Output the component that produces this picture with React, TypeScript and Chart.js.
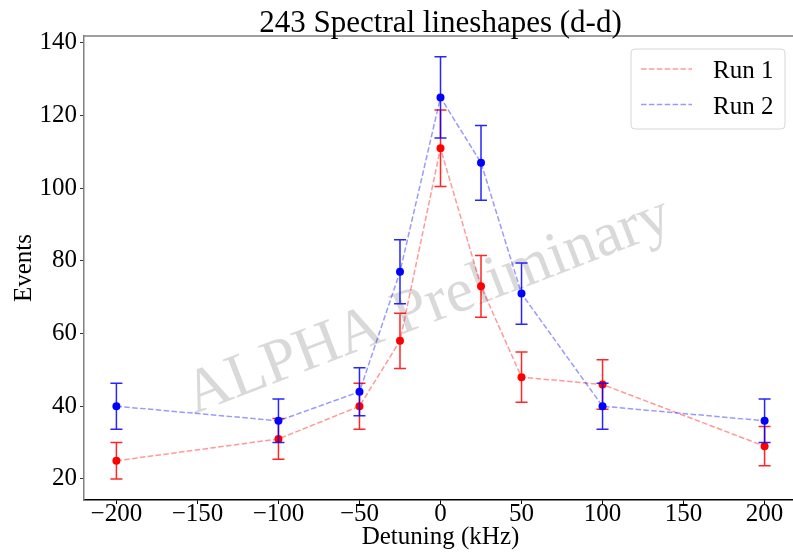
import React, { useEffect, useRef } from "react";
import { Chart, registerables } from "chart.js";

Chart.register(...registerables);

const detuning = [-200, -100, -50, -25, 0, 25, 50, 100, 200];
const run1Events = [25, 31, 40, 58, 111, 73, 48, 46, 29];
const run1Err = [5.0, 5.6, 6.3, 7.6, 10.5, 8.5, 6.9, 6.8, 5.4];
const run2Events = [40, 36, 44, 77, 125, 107, 71, 40, 36];
const run2Err = [6.3, 6.0, 6.6, 8.8, 11.2, 10.3, 8.4, 6.3, 6.0];
const xTicks = [-200, -150, -100, -50, 0, 50, 100, 150, 200];
const yTicks = [20, 40, 60, 80, 100, 120, 140];

const FONT = '"Liberation Serif", "Times New Roman", serif';
const CANVAS_W = 830;
const CANVAS_H = 559;

const errorBarPlugin = {
  id: "errorBars",
  beforeDatasetDraw(chart: any, args: any) {
    const ds = chart.data.datasets[args.index];
    const errs: number[] = ds.errors;
    if (!errs) return;
    const xs = chart.scales.x;
    const ys = chart.scales.y;
    const ctx = chart.ctx;
    ctx.save();
    ctx.strokeStyle = ds.errorColor;
    ctx.lineWidth = 1.5;
    ctx.setLineDash([]);
    ds.data.forEach((p: any, i: number) => {
      const x = xs.getPixelForValue(p.x);
      const yt = ys.getPixelForValue(p.y + errs[i]);
      const yb = ys.getPixelForValue(p.y - errs[i]);
      ctx.beginPath();
      ctx.moveTo(x, yt);
      ctx.lineTo(x, yb);
      ctx.moveTo(x - 6, yt);
      ctx.lineTo(x + 6, yt);
      ctx.moveTo(x - 6, yb);
      ctx.lineTo(x + 6, yb);
      ctx.stroke();
    });
    ctx.restore();
  },
};

const decorPlugin = {
  id: "decor",
  beforeDatasetsDraw(chart: any) {
    const ctx = chart.ctx;
    ctx.save();
    ctx.translate(434, 322);
    ctx.rotate((-21 * Math.PI) / 180);
    ctx.font = `62px ${FONT}`;
    ctx.fillStyle = "rgba(128,128,128,0.3)";
    ctx.textAlign = "center";
    ctx.textBaseline = "alphabetic";
    ctx.fillText("ALPHA Preliminary", 0, 0);
    ctx.restore();
  },
  afterDraw(chart: any) {
    const ctx = chart.ctx;
    const a = chart.chartArea;
    ctx.save();
    // top spine
    ctx.strokeStyle = "#808080";
    ctx.lineWidth = 1.5;
    ctx.beginPath();
    ctx.moveTo(a.left, a.top);
    ctx.lineTo(a.right, a.top);
    ctx.stroke();
    // title
    ctx.fillStyle = "#000";
    ctx.font = `31px ${FONT}`;
    ctx.textAlign = "center";
    ctx.textBaseline = "alphabetic";
    ctx.fillText("243 Spectral lineshapes (d-d)", (a.left + a.right) / 2, 32);
    // x title
    ctx.font = `25px ${FONT}`;
    ctx.fillText("Detuning (kHz)", (a.left + a.right) / 2, 544);
    // y title
    ctx.save();
    ctx.translate(31, (a.top + a.bottom) / 2);
    ctx.rotate(-Math.PI / 2);
    ctx.fillText("Events", 0, 0);
    ctx.restore();
    // legend
    const lx = 631, ly = 49, lw = 154, lh = 80, r = 4;
    ctx.beginPath();
    ctx.moveTo(lx + r, ly);
    ctx.lineTo(lx + lw - r, ly);
    ctx.quadraticCurveTo(lx + lw, ly, lx + lw, ly + r);
    ctx.lineTo(lx + lw, ly + lh - r);
    ctx.quadraticCurveTo(lx + lw, ly + lh, lx + lw - r, ly + lh);
    ctx.lineTo(lx + r, ly + lh);
    ctx.quadraticCurveTo(lx, ly + lh, lx, ly + lh - r);
    ctx.lineTo(lx, ly + r);
    ctx.quadraticCurveTo(lx, ly, lx + r, ly);
    ctx.closePath();
    ctx.fillStyle = "rgba(255,255,255,0.8)";
    ctx.fill();
    ctx.strokeStyle = "#d6d6d6";
    ctx.lineWidth = 1;
    ctx.stroke();
    const items = chart.data.datasets
      .slice()
      .sort((p: any, q: any) => p.legendOrder - q.legendOrder);
    items.forEach((ds: any, i: number) => {
      const y = 69 + i * 35.5;
      ctx.strokeStyle = ds.borderColor;
      ctx.lineWidth = 1.5;
      ctx.setLineDash([5.5, 2.4]);
      ctx.beginPath();
      ctx.moveTo(641, y);
      ctx.lineTo(692, y);
      ctx.stroke();
      ctx.setLineDash([]);
      ctx.fillStyle = "#000";
      ctx.font = `25px ${FONT}`;
      ctx.textAlign = "left";
      ctx.textBaseline = "alphabetic";
      ctx.fillText(ds.label, 713, y + 9);
    });
    ctx.restore();
  },
};

export default function App() {
  const ref = useRef<HTMLCanvasElement | null>(null);
  useEffect(() => {
    document.body.style.margin = "0";
    const canvas = ref.current!;
    const mk = (ys: number[]) => detuning.map((x, i) => ({ x, y: ys[i] }));
    const chart = new Chart(canvas, {
      type: "line",
      data: {
        datasets: [
          {
            label: "Run 2",
            data: mk(run2Events),
            errors: run2Err,
            errorColor: "rgba(0,0,255,0.85)",
            legendOrder: 1,
            borderColor: "rgba(0,0,255,0.4)",
            borderWidth: 1.5,
            borderDash: [5.5, 2.4],
            pointRadius: 4,
            pointBorderWidth: 0,
            pointBackgroundColor: "#0000ff",
            pointBorderColor: "#0000ff",
            tension: 0,
            fill: false,
            order: 0,
          } as any,
          {
            label: "Run 1",
            data: mk(run1Events),
            errors: run1Err,
            errorColor: "rgba(255,0,0,0.85)",
            legendOrder: 0,
            borderColor: "rgba(255,0,0,0.4)",
            borderWidth: 1.5,
            borderDash: [5.5, 2.4],
            pointRadius: 4,
            pointBorderWidth: 0,
            pointBackgroundColor: "#ff0000",
            pointBorderColor: "#ff0000",
            tension: 0,
            fill: false,
            order: 1,
          } as any,
        ],
      },
      options: {
        responsive: false,
        animation: false,
        devicePixelRatio: 1,
        layout: { padding: { top: 36, left: 0, right: CANVAS_W - 797, bottom: 0 } },
        plugins: {
          legend: { display: false },
          title: { display: false },
          tooltip: { enabled: false },
        },
        scales: {
          x: {
            type: "linear",
            min: -220,
            max: 220,
            afterFit: (s: any) => {
              s.height = 59;
            },
            afterBuildTicks: (s: any) => {
              s.ticks = xTicks.map((v) => ({ value: v }));
            },
            ticks: {
              includeBounds: false,
              autoSkip: false,
              maxRotation: 0,
              padding: -5,
              color: "#000",
              font: { family: FONT, size: 25 },
              callback: (v: any) => (v < 0 ? "\u2212" + Math.abs(v) : String(v)),
            },
            grid: { drawOnChartArea: false, drawTicks: true, tickLength: 4, color: "#000", lineWidth: 1 },
            border: { display: true, color: "#000", width: 1.5 },
          },
          y: {
            type: "linear",
            min: 14.2,
            max: 141.9,
            afterFit: (s: any) => {
              s.width = 84;
            },
            afterBuildTicks: (s: any) => {
              s.ticks = yTicks.map((v) => ({ value: v }));
            },
            ticks: {
              includeBounds: false,
              autoSkip: false,
              padding: 3,
              color: "#000",
              font: { family: FONT, size: 25 },
            },
            grid: { drawOnChartArea: false, drawTicks: true, tickLength: 4, color: "#333", lineWidth: 1 },
            border: { display: true, color: "#808080", width: 1.5 },
          },
        },
      } as any,
      plugins: [errorBarPlugin, decorPlugin],
    });
    return () => chart.destroy();
  }, []);
  return (
    <div style={{ position: "absolute", left: 0, top: 0, width: 793, height: CANVAS_H, overflow: "hidden", background: "#fff" }}>
      <canvas ref={ref} width={CANVAS_W} height={CANVAS_H} style={{ width: CANVAS_W, height: CANVAS_H, display: "block" }} />
    </div>
  );
}
